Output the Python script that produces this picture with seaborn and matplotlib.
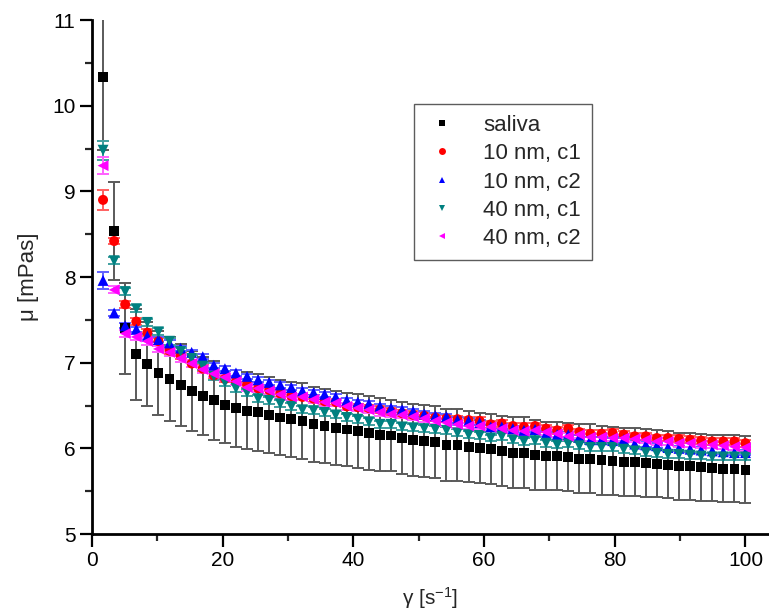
import numpy as np
import pandas as pd
import matplotlib
matplotlib.use("Agg")
import matplotlib.pyplot as plt
from matplotlib.ticker import MultipleLocator
import seaborn as sns

# =========================
# 1. DATA
# =========================
shear_rate = [1.69, 3.39, 5.08, 6.78, 8.47, 10.17, 11.86, 13.56, 15.25, 16.95,
              18.64, 20.34, 22.03, 23.73, 25.42, 27.12, 28.81, 30.51, 32.20, 33.90,
              35.59, 37.29, 38.98, 40.68, 42.37, 44.07, 45.76, 47.46, 49.15, 50.85,
              52.54, 54.24, 55.93, 57.63, 59.32, 61.02, 62.71, 64.41, 66.10, 67.80,
              69.49, 71.19, 72.88, 74.58, 76.27, 77.97, 79.66, 81.36, 83.05, 84.75,
              86.44, 88.14, 89.83, 91.53, 93.22, 94.92, 96.61, 98.31, 100.0]

saliva = [10.33, 8.54, 7.40, 7.10, 6.98, 6.88, 6.81, 6.74, 6.67, 6.61,
          6.56, 6.51, 6.47, 6.44, 6.42, 6.39, 6.36, 6.34, 6.32, 6.28,
          6.26, 6.24, 6.22, 6.20, 6.18, 6.16, 6.15, 6.12, 6.10, 6.09,
          6.07, 6.04, 6.04, 6.02, 6.00, 5.99, 5.97, 5.95, 5.95, 5.92,
          5.91, 5.91, 5.90, 5.88, 5.88, 5.86, 5.85, 5.84, 5.84, 5.83,
          5.82, 5.81, 5.79, 5.79, 5.78, 5.77, 5.76, 5.76, 5.75]
saliva_err = [0.85, 0.57, 0.53, 0.53, 0.49, 0.49, 0.49, 0.48, 0.47, 0.46,
              0.46, 0.45, 0.45, 0.45, 0.45, 0.44, 0.44, 0.44, 0.44, 0.44,
              0.43, 0.43, 0.43, 0.43, 0.43, 0.43, 0.42, 0.42, 0.42, 0.42,
              0.42, 0.42, 0.42, 0.41, 0.41, 0.41, 0.41, 0.41, 0.41, 0.41,
              0.40, 0.40, 0.40, 0.40, 0.40, 0.40, 0.40, 0.40, 0.40, 0.40,
              0.39, 0.39, 0.39, 0.39, 0.39, 0.39, 0.39, 0.39, 0.39]

nm10_c1 = [8.90, 8.42, 7.68, 7.48, 7.35, 7.25, 7.14, 7.08, 6.99, 6.93,
           6.85, 6.81, 6.78, 6.74, 6.70, 6.68, 6.64, 6.61, 6.60, 6.58,
           6.55, 6.54, 6.49, 6.48, 6.47, 6.45, 6.43, 6.41, 6.39, 6.38,
           6.36, 6.35, 6.34, 6.33, 6.32, 6.28, 6.29, 6.26, 6.25, 6.26,
           6.23, 6.21, 6.23, 6.19, 6.17, 6.17, 6.18, 6.16, 6.14, 6.14,
           6.12, 6.12, 6.11, 6.10, 6.09, 6.08, 6.08, 6.08, 6.06]
nm10_c1_err = [0.12, 0.04, 0.04, 0.04, 0.04, 0.04, 0.04, 0.04, 0.04, 0.04,
               0.04, 0.04, 0.04, 0.04, 0.04, 0.04, 0.04, 0.04, 0.04, 0.04,
               0.04, 0.04, 0.04, 0.04, 0.04, 0.04, 0.04, 0.04, 0.04, 0.04,
               0.04, 0.04, 0.04, 0.04, 0.04, 0.04, 0.04, 0.04, 0.04, 0.04,
               0.04, 0.04, 0.04, 0.04, 0.04, 0.04, 0.04, 0.04, 0.04, 0.04,
               0.04, 0.04, 0.04, 0.04, 0.04, 0.04, 0.04, 0.04, 0.04]

nm10_c2 = [7.96, 7.58, 7.43, 7.39, 7.31, 7.27, 7.23, 7.17, 7.12, 7.07,
           6.97, 6.93, 6.88, 6.84, 6.80, 6.77, 6.74, 6.71, 6.67, 6.65,
           6.63, 6.60, 6.56, 6.54, 6.52, 6.49, 6.47, 6.45, 6.43, 6.40,
           6.38, 6.37, 6.33, 6.32, 6.30, 6.25, 6.25, 6.23, 6.21, 6.22,
           6.17, 6.16, 6.16, 6.13, 6.10, 6.10, 6.09, 6.10, 6.05, 6.04,
           6.03, 6.01, 6.00, 5.99, 5.98, 5.97, 5.96, 5.95, 5.95]
nm10_c2_err = [0.10, 0.03, 0.03, 0.03, 0.03, 0.03, 0.03, 0.03, 0.03, 0.03,
               0.03, 0.03, 0.03, 0.03, 0.03, 0.03, 0.03, 0.03, 0.03, 0.03,
               0.03, 0.03, 0.03, 0.03, 0.03, 0.03, 0.03, 0.03, 0.03, 0.03,
               0.03, 0.03, 0.03, 0.03, 0.03, 0.03, 0.03, 0.03, 0.03, 0.03,
               0.03, 0.03, 0.03, 0.03, 0.03, 0.03, 0.03, 0.03, 0.03, 0.03,
               0.03, 0.03, 0.03, 0.03, 0.03, 0.03, 0.03, 0.03, 0.03]

nm40_c1 = [9.48, 8.19, 7.83, 7.63, 7.47, 7.36, 7.25, 7.13, 7.05, 6.96,
           6.84, 6.77, 6.70, 6.65, 6.58, 6.56, 6.52, 6.49, 6.45, 6.44,
           6.42, 6.39, 6.36, 6.34, 6.31, 6.28, 6.28, 6.25, 6.24, 6.23,
           6.22, 6.21, 6.18, 6.16, 6.15, 6.12, 6.14, 6.10, 6.08, 6.09,
           6.06, 6.04, 6.05, 6.03, 6.01, 6.01, 6.01, 5.99, 5.97, 5.95,
           5.94, 5.93, 5.93, 5.92, 5.91, 5.90, 5.90, 5.90, 5.90]
nm40_c1_err = [0.11, 0.04, 0.04, 0.04, 0.04, 0.04, 0.04, 0.04, 0.04, 0.04,
               0.04, 0.04, 0.04, 0.04, 0.04, 0.04, 0.04, 0.04, 0.04, 0.04,
               0.04, 0.04, 0.04, 0.04, 0.04, 0.04, 0.04, 0.04, 0.04, 0.04,
               0.04, 0.04, 0.04, 0.04, 0.04, 0.04, 0.04, 0.04, 0.04, 0.04,
               0.04, 0.04, 0.04, 0.04, 0.04, 0.04, 0.04, 0.04, 0.04, 0.04,
               0.04, 0.04, 0.04, 0.04, 0.04, 0.04, 0.04, 0.04, 0.04]

nm40_c2 = [9.30, 7.85, 7.34, 7.30, 7.25, 7.16, 7.12, 7.05, 6.99, 6.92,
           6.87, 6.83, 6.78, 6.71, 6.70, 6.67, 6.63, 6.60, 6.60, 6.57,
           6.54, 6.53, 6.49, 6.47, 6.45, 6.42, 6.40, 6.39, 6.37, 6.35,
           6.32, 6.30, 6.28, 6.26, 6.26, 6.25, 6.23, 6.21, 6.20, 6.21,
           6.19, 6.17, 6.14, 6.16, 6.13, 6.13, 6.12, 6.12, 6.11, 6.10,
           6.08, 6.08, 6.06, 6.06, 6.04, 6.04, 6.03, 6.02, 6.01]
nm40_c2_err = [0.10, 0.04, 0.04, 0.04, 0.04, 0.04, 0.04, 0.04, 0.04, 0.04,
               0.04, 0.04, 0.04, 0.04, 0.04, 0.04, 0.04, 0.04, 0.04, 0.04,
               0.04, 0.04, 0.04, 0.04, 0.04, 0.04, 0.04, 0.04, 0.04, 0.04,
               0.04, 0.04, 0.04, 0.04, 0.04, 0.04, 0.04, 0.04, 0.04, 0.04,
               0.04, 0.04, 0.04, 0.04, 0.04, 0.04, 0.04, 0.04, 0.04, 0.04,
               0.04, 0.04, 0.04, 0.04, 0.04, 0.04, 0.04, 0.04, 0.04]

labels = ['saliva', '10 nm, c1', '10 nm, c2', '40 nm, c1', '40 nm, c2']
values = [saliva, nm10_c1, nm10_c2, nm40_c1, nm40_c2]
errors = [saliva_err, nm10_c1_err, nm10_c2_err, nm40_c1_err, nm40_c2_err]

colors = ['#000000', '#ff0000', '#0000ff', '#008080', '#ff00ff']
err_colors = ['#5a5a5a', '#ff6060', '#6060ff', '#40a0a0', '#ff60ff']
markers = ['s', 'o', '^', 'v', '<']
sizes = [50, 52, 62, 62, 62]

# =========================
# 2. STYLE
# =========================
sns.set_style("ticks")
plt.rcParams['font.family'] = ['Liberation Sans', 'DejaVu Sans']
plt.rcParams['mathtext.fontset'] = 'custom'
plt.rcParams['mathtext.rm'] = 'Liberation Sans'
plt.rcParams['mathtext.it'] = 'Liberation Sans'

fig = plt.figure(figsize=(7.69, 6.11), dpi=100)
ax = fig.add_axes([92 / 769, 77 / 611, 677 / 769, 514 / 611])

# =========================
# 3. PLOT
# =========================
handles = []
for lab, yv, ye, c, ec, m, s in zip(labels, values, errors, colors, err_colors, markers, sizes):
    df = pd.DataFrame({'x': shear_rate, 'y': yv, 'err': ye})
    ax.errorbar(df['x'], df['y'], yerr=df['err'], fmt='none', ecolor=ec,
                elinewidth=1.4, capsize=4, capthick=1.4, zorder=2, clip_on=True)
    sns.scatterplot(data=df, x='x', y='y', marker=m, color=c, s=s,
                    edgecolor='none', linewidth=0, ax=ax, zorder=3, label=lab, legend=False)
    handles.append(plt.Line2D([], [], linestyle='none', marker=m, color=c,
                              markersize=5, markeredgewidth=0))

ax.set_xlim(0, 103.6)
ax.set_ylim(5, 11)
ax.xaxis.set_major_locator(MultipleLocator(20))
ax.xaxis.set_minor_locator(MultipleLocator(10))
ax.yaxis.set_major_locator(MultipleLocator(1))
ax.yaxis.set_minor_locator(MultipleLocator(0.5))

for side in ['top', 'right']:
    ax.spines[side].set_visible(False)
for side in ['left', 'bottom']:
    ax.spines[side].set_linewidth(2)
    ax.spines[side].set_color('black')

ax.tick_params(which='major', direction='out', length=9, width=1.6,
               labelsize=15, colors='black', pad=3)
ax.tick_params(which='minor', direction='out', length=5, width=1.6)

ax.set_xlabel(r'γ [s$^{\mathregular{-1}}$]', fontsize=15, labelpad=11)
ax.set_ylabel('μ [mPas]', fontsize=16, labelpad=9)

leg = ax.legend(handles, labels, loc='upper left', bbox_to_anchor=(0.476, 0.837),
                fontsize=16, frameon=True, fancybox=False, edgecolor='#333333',
                handlelength=1.5, handletextpad=1.1, borderpad=0.5,
                labelspacing=0.33, borderaxespad=0)
leg.get_frame().set_linewidth(1.0)

fig.savefig('out.png', dpi=100)
